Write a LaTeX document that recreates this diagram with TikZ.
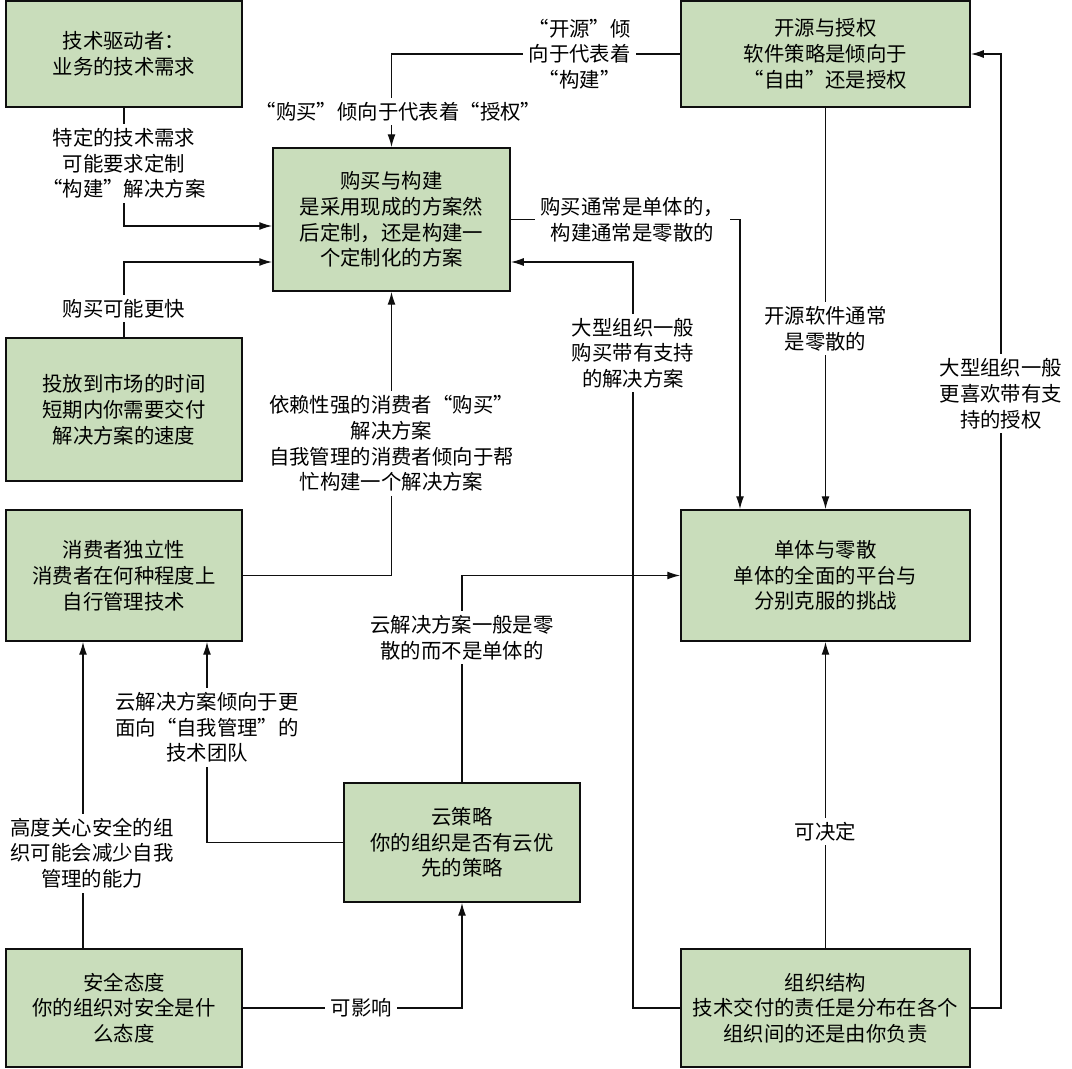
\documentclass[tikz,border=0pt]{standalone}
\usepackage{fontspec}
\setmainfont{Noto Sans CJK SC}
\usetikzlibrary{arrows.meta, positioning, calc}
\definecolor{sage}{RGB}{201,221,187}
\definecolor{ink}{RGB}{15,15,15}

\begin{document}
\begin{tikzpicture}[
        x=0.025cm, y=-0.025cm,
        font=\fontsize{14.5}{18.3}\selectfont,
        factor/.style={rectangle, draw=ink, fill=sage, line width=1.3pt, align=center, inner sep=0pt},
        note/.style={fill=white, align=center, inner xsep=4pt, inner ysep=3pt},
        arrow/.style={-{Latex[length=3.2mm, width=2mm]}, line width=0.9pt, draw=ink}
    ]
        \useasboundingbox (0,0) rectangle (1072,1069);

        \node[factor, minimum width=5.9cm, minimum height=2.65cm] (drv) at (124,54) {技术驱动者：\\业务的技术需求};
        \node[factor, minimum width=5.925cm, minimum height=3.575cm] (bvb) at (391.5,219.5) {购买与构建\\是采用现成的方案然\\后定制，还是构建一\\个定制化的方案};
        \node[factor, minimum width=7.225cm, minimum height=2.65cm] (osl) at (825.5,54) {开源与授权\\软件策略是倾向于\\“自由”还是授权};
        \node[factor, minimum width=5.9cm, minimum height=3.575cm] (ttm) at (124,409.5) {投放到市场的时间\\短期内你需要交付\\解决方案的速度};
        \node[factor, minimum width=5.9cm, minimum height=3.275cm] (ci) at (124,575.5) {消费者独立性\\消费者在何种程度上\\自行管理技术};
        \node[factor, minimum width=7.225cm, minimum height=3.275cm] (mvf) at (825.5,575.5) {单体与零散\\单体的全面的平台与\\分别克服的挑战};
        \node[factor, minimum width=5.9cm, minimum height=2.975cm] (cs) at (462,842.5) {云策略\\你的组织是否有云优\\先的策略};
        \node[factor, minimum width=5.9cm, minimum height=2.95cm] (sec) at (124,1008) {安全态度\\你的组织对安全是什\\么态度};
        \node[factor, minimum width=7.225cm, minimum height=2.95cm] (org) at (825.5,1008) {组织结构\\技术交付的责任是分布在各个\\组织间的还是由你负责};

        \draw[arrow] (drv.south) |- node[note, pos=0.235] {特定的技术需求\\可能要求定制\\“构建”解决方案} ($(bvb.west)+(0,6.5)$);
        \draw[arrow] (ttm.north) |- node[note, pos=0.19] {购买可能更快} ($(bvb.west)+(0,42.5)$);
        \draw[arrow] (osl.west) -| node[note, pos=0.174] {“开源”倾\\向于代表着\\“构建”} node[note, pos=0.81, xshift=0.175cm] {“购买”倾向于代表着“授权”} (bvb.north);
        \draw[arrow] (bvb.east) -| node[note, pos=0.265] {购买通常是单体的，\\构建通常是零散的} ($(mvf.north)+(-85.5,0)$);
        \draw[arrow] (osl.south) -- node[note, pos=0.55] {开源软件通常\\是零散的} (mvf.north);
        \draw[arrow] (org.west) -- ++(-47,0) |- node[note, pos=0.439] {大型组织一般\\购买带有支持\\的解决方案} ($(bvb.east)+(0,42.5)$);
        \draw[arrow] (org.east) -- ++(30,0) |- node[note, pos=0.322] {大型组织一般\\更喜欢带有支\\持的授权} (osl.east);
        \draw[arrow] (ci.east) -| node[note, pos=0.733] {依赖性强的消费者“购买”\\解决方案\\自我管理的消费者倾向于帮\\忙构建一个解决方案} (bvb.south);
        \draw[arrow] (cs.north) |- node[note, pos=0.35] {云解决方案一般是零\\散的而不是单体的} (mvf.west);
        \draw[arrow] (cs.west) -| node[note, pos=0.787] {云解决方案倾向于更\\面向“自我管理”的\\技术团队} ($(ci.south)+(83,0)$);
        \draw[arrow] ($(sec.north)+(-41,0)$) -- node[note, pos=0.31, xshift=0.225cm] {高度关心安全的组\\织可能会减少自我\\管理的能力} ($(ci.south)+(-41,0)$);
        \draw[arrow] (sec.east) -| node[note, pos=0.27] {可影响} (cs.south);
        \draw[arrow] (org.north) -- node[note, pos=0.38] {可决定} (mvf.south);
    \end{tikzpicture}
\end{document}
